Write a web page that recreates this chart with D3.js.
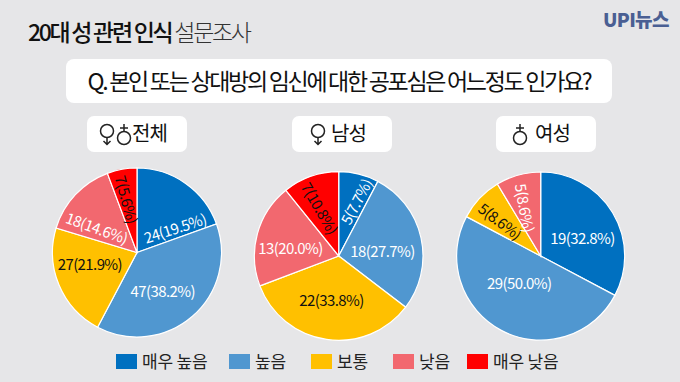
<!DOCTYPE html>
<html>
<head>
<meta charset="utf-8">
<script src="https://cdn.jsdelivr.net/npm/d3@7"></script>
<style>
html, body { margin: 0; padding: 0; background: #e6e6e8; }
svg { display: block; }
text { font-family: "Noto Sans CJK KR", "Noto Sans", sans-serif; }
</style>
</head>
<body>
<script>
//data
var categories = ["매우 높음", "높음", "보통", "낮음", "매우 낮음"];
var panelNames = ["전체", "남성", "여성"];
var allCounts = [24, 47, 27, 18, 7];
var allShares = ["19.5", "38.2", "21.9", "14.6", "5.6"];
var maleCounts = [5, 18, 22, 13, 7];
var maleShares = ["7.7", "27.7", "33.8", "20.0", "10.8"];
var femaleCounts = [19, 29, 5, 5];
var femaleShares = ["32.8", "50.0", "8.6", "8.6"];

var colors = ["#0070c0", "#5097d0", "#ffc000", "#f2686f", "#ff0000"];
var labelColors = ["#ffffff", "#ffffff", "#111111", "#ffffff", "#111111"];

//label placement: nudge from the slice centroid + rotation
var allNudge = [[9, 16, -18], [-7, 0, 0], [-1, -8.5, 0], [-3.5, 9, 20], [-1, -4, 75]];
var maleNudge = [[5, -6, -62], [-5, 5, 0], [0, -6, 0], [0, 5, 0], [-2, -1, 60]];
var femaleNudge = [[-1, 7, 0], [2, -18, 0], [-4, -1, 37], [-2, 0, 80]];

var width = 680, height = 382;

var svg = d3.select("body")
    .append("svg")
    .attr("width", width)
    .attr("height", height);

svg.append("rect")
    .attr("width", width)
    .attr("height", height)
    .attr("fill", "#e6e6e8");

//title
var title = svg.append("text")
    .attr("x", 28)
    .attr("y", 41)
    .attr("font-size", 23)
    .attr("letter-spacing", -2.3)
    .attr("fill", "#111");
title.append("tspan").attr("font-weight", 500).text("20대 성 관련 인식 ");
title.append("tspan").attr("font-weight", 300).attr("fill", "#333").text("설문조사");

//logo
svg.append("text")
    .attr("x", 603)
    .attr("y", 27)
    .attr("font-size", 19)
    .attr("font-weight", 900)
    .attr("letter-spacing", -0.7)
    .attr("fill", "#4a5f93")
    .text("UPI뉴스");

//question box
svg.append("rect")
    .attr("x", 66).attr("y", 59)
    .attr("width", 546).attr("height", 44)
    .attr("rx", 8)
    .attr("fill", "#fff");

svg.append("text")
    .attr("x", 339)
    .attr("y", 90)
    .attr("text-anchor", "middle")
    .attr("font-size", 23)
    .attr("letter-spacing", -2.3)
    .attr("fill", "#111")
    .text("Q. 본인 또는 상대방의 임신에 대한 공포심은 어느정도 인가요?");

//gender icons are drawn, the glyphs in the fonts look different
function femaleIcon(g, x, y){
    var icon = g.append("g")
        .attr("transform", "translate(" + x + "," + y + ")")
        .attr("fill", "none")
        .attr("stroke", "#222")
        .attr("stroke-width", 1.5);
    icon.append("circle").attr("cx", 0).attr("cy", -3).attr("r", 6.5);
    icon.append("path").attr("d", "M0,3.5V10.5M-3.5,7L0,10.5L3.5,7");
}

function maleIcon(g, x, y){
    var icon = g.append("g")
        .attr("transform", "translate(" + x + "," + y + ")")
        .attr("fill", "none")
        .attr("stroke", "#222")
        .attr("stroke-width", 1.5);
    icon.append("circle").attr("cx", 0).attr("cy", 4).attr("r", 6.5);
    icon.append("path").attr("d", "M0,-2.5V-10M-4,-6H4");
}

var panels = [
    {name: panelNames[0], counts: allCounts, shares: allShares, nudge: allNudge, cx: 137, cy: 252.5, boxX: 87, r: 84.5},
    {name: panelNames[1], counts: maleCounts, shares: maleShares, nudge: maleNudge, cx: 338.7, cy: 256, boxX: 292, r: 84.3},
    {name: panelNames[2], counts: femaleCounts, shares: femaleShares, nudge: femaleNudge, cx: 540.7, cy: 256, boxX: 496, r: 84}
];

var pie = d3.pie().sort(null);

panels.forEach(function(p, i){
    //panel heading
    var head = svg.append("g");
    head.append("rect")
        .attr("x", p.boxX).attr("y", 116)
        .attr("width", 100).attr("height", 36)
        .attr("rx", 7)
        .attr("fill", "#fff");

    if (i == 0) {
        femaleIcon(head, p.boxX + 20, 134);
        maleIcon(head, p.boxX + 37, 134);
    } else if (i == 1) {
        femaleIcon(head, p.boxX + 26, 134);
    } else {
        maleIcon(head, p.boxX + 24, 134);
    }

    head.append("text")
        .attr("x", i == 0 ? p.boxX + 45 : p.boxX + 39)
        .attr("y", 141)
        .attr("font-size", 20)
        .attr("letter-spacing", -1)
        .attr("fill", "#111")
        .text(p.name);

    //pie slices
    var g = svg.append("g")
        .attr("transform", "translate(" + p.cx + "," + p.cy + ")");

    var arc = d3.arc().innerRadius(0).outerRadius(p.r);
    var labelArc = d3.arc().innerRadius(50).outerRadius(50);
    var slices = pie(p.counts);

    g.selectAll(".slice")
        .data(slices)
        .enter()
        .append("path")
        .attr("class", "slice")
        .attr("d", arc)
        .attr("fill", function(d, j){ return colors[j]; })
        .attr("stroke", "#fff")
        .attr("stroke-width", 1.2);

    g.selectAll(".sliceLabel")
        .data(slices)
        .enter()
        .append("text")
        .attr("class", "sliceLabel")
        .attr("text-anchor", "middle")
        .attr("dominant-baseline", "central")
        .attr("font-size", 15)
        .attr("letter-spacing", -0.6)
        .attr("fill", function(d, j){ return labelColors[j]; })
        .attr("transform", function(d, j){
            var c = labelArc.centroid(d);
            var n = p.nudge[j];
            return "translate(" + (c[0] + n[0]) + "," + (c[1] + n[1]) + ") rotate(" + n[2] + ")";
        })
        .text(function(d, j){
            return d.value + "(" + p.shares[j] + "%)";
        });
});

//legend
var legendX = d3.scaleOrdinal()
    .domain(categories)
    .range([116, 229, 311, 393, 467]);

var legend = svg.selectAll(".legend")
    .data(categories)
    .enter()
    .append("g")
    .attr("class", "legend")
    .attr("transform", function(d){ return "translate(" + legendX(d) + ",354)"; });

legend.append("rect")
    .attr("width", 21)
    .attr("height", 15)
    .attr("fill", function(d, i){ return colors[i]; });

legend.append("text")
    .attr("x", 26)
    .attr("y", 14)
    .attr("font-size", 17)
    .attr("letter-spacing", -0.2)
    .attr("fill", "#222")
    .text(function(d){ return d; });
</script>
</body>
</html>
